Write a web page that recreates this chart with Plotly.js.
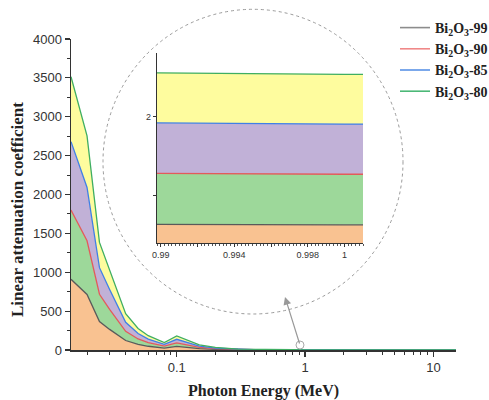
<!DOCTYPE html>
<html>
<head>
<meta charset="utf-8">
<script src="https://cdn.plot.ly/plotly-3.0.1.min.js"></script>
<style>html,body{margin:0;padding:0;background:#fff;}#chart{width:489px;height:400px;}</style>
</head>
<body>
<div id="chart"></div>
<script>
// Photon energies (MeV)
const energy = [0.015, 0.02, 0.025, 0.03, 0.04, 0.05, 0.06, 0.08, 0.1, 0.15, 0.2, 0.3, 0.4, 0.5, 0.6, 0.8, 1, 1.25, 1.5, 2, 3, 4, 5, 6, 8, 10, 15];
// Stacked layer values (each series' own contribution)
const bi99 = [910, 715, 365, 265, 122, 72, 48, 25, 47, 17, 8.5, 3.2, 1.8, 1.2, 0.95, 0.74, 0.635, 0.57, 0.52, 0.46, 0.40, 0.38, 0.37, 0.37, 0.38, 0.39, 0.42];
const bi90 = [890, 690, 352, 258, 118, 70, 46.5, 24.3, 45.5, 16.5, 8.2, 3.1, 1.75, 1.17, 0.93, 0.735, 0.64, 0.565, 0.515, 0.455, 0.395, 0.375, 0.365, 0.365, 0.375, 0.385, 0.415];
const bi85 = [880, 686, 342, 254, 116, 69, 46, 24, 45, 16.3, 8.1, 3.05, 1.73, 1.15, 0.92, 0.73, 0.635, 0.56, 0.51, 0.45, 0.39, 0.37, 0.36, 0.36, 0.37, 0.38, 0.41];
const bi80 = [835, 663, 325, 244, 111, 66, 44, 23, 43, 15.6, 7.8, 2.95, 1.68, 1.12, 0.9, 0.72, 0.63, 0.555, 0.505, 0.445, 0.385, 0.365, 0.355, 0.355, 0.365, 0.375, 0.405];
const names = ['Bi<sub>2</sub>O<sub>3</sub>-99', 'Bi<sub>2</sub>O<sub>3</sub>-90', 'Bi<sub>2</sub>O<sub>3</sub>-85', 'Bi<sub>2</sub>O<sub>3</sub>-80'];
const xTickVals = [0.1, 1, 10];
const xTickText = ['0.1', '1', '10'];
const insetTickVals = [0.99, 0.992, 0.994, 0.996, 0.998, 1.0];
const insetTickText = ['0.99', '', '0.994', '', '0.998', '1'];

const series = [bi99, bi90, bi85, bi80];
const lineColors = ['#5a5a5a', '#e35a5a', '#3f7fe6', '#3fae62'];
const legendColors = ['#8c8c8c', '#f08888', '#5b93e6', '#4cb877'];
const fillColors = ['#f9c291', '#9dd89a', '#c1b1d7', '#fefc9e'];

const traces = [];
series.forEach((s, i) => {
  traces.push({
    x: energy, y: s, name: names[i], type: 'scatter', mode: 'lines',
    stackgroup: 'main', fillcolor: fillColors[i],
    line: {color: lineColors[i], width: 1.3},
    xaxis: 'x', yaxis: 'y', showlegend: false
  });
});
series.forEach((s, i) => {
  traces.push({
    x: energy, y: s, name: names[i], type: 'scatter', mode: 'lines',
    stackgroup: 'inset', fillcolor: fillColors[i],
    line: {color: lineColors[i], width: 1.3},
    xaxis: 'x2', yaxis: 'y2', showlegend: false, hoverinfo: 'skip'
  });
});
// legend entries (line keys only)
names.forEach((n, i) => {
  traces.push({
    x: [null], y: [null], name: n, type: 'scatter', mode: 'lines',
    line: {color: legendColors[i], width: 1.6}, showlegend: true,
    xaxis: 'x', yaxis: 'y'
  });
});

// geometry helpers (plot area: x 71..456, y 39..350)
const L = 71, W = 385, T = 39, H = 311;
const px = v => (v - L) / W;
const py = v => (T + H - v) / H;

const minorX = [];
[0.01, 0.1, 1, 10].forEach(d => { for (let k = 2; k <= 9; k++) minorX.push(d * k); });

const serif = 'Liberation Serif, Times New Roman, serif';

const layout = {
  width: 489, height: 400,
  margin: {l: L, r: 489 - L - W, t: T, b: 400 - T - H, autoexpand: false},
  paper_bgcolor: '#fff', plot_bgcolor: '#fff',
  font: {family: 'Liberation Sans, Arial, sans-serif', size: 13, color: '#333'},
  xaxis: {
    type: 'log', range: [Math.log10(0.015), Math.log10(15)],
    tickvals: xTickVals, ticktext: xTickText,
    ticks: 'outside', ticklen: 5, tickwidth: 1.2, tickcolor: '#333',
    minor: {tickvals: minorX, ticks: 'outside', ticklen: 3, tickcolor: '#333', tickwidth: 1},
    showline: true, linecolor: '#333', linewidth: 1.5,
    showgrid: false, zeroline: false,
    tickfont: {size: 13, color: '#333'},
    title: {text: '<b>Photon Energy (MeV)</b>', font: {family: serif, size: 16, color: '#222'}, standoff: 10}
  },
  yaxis: {
    range: [0, 4000], dtick: 500, tick0: 0,
    ticks: 'outside', ticklen: 5, tickwidth: 1.2, tickcolor: '#333',
    minor: {dtick: 250, ticks: 'outside', ticklen: 3, tickcolor: '#333', tickwidth: 1},
    showline: true, linecolor: '#333', linewidth: 1.5,
    showgrid: false, zeroline: false,
    tickfont: {size: 13, color: '#333'}
  },
  xaxis2: {
    domain: [px(157), px(363)], anchor: 'y2',
    range: [0.9898, 1.001],
    tickvals: insetTickVals, ticktext: insetTickText,
    ticks: 'outside', ticklen: 3, tickcolor: '#333',
    minor: {dtick: 0.0002, ticks: 'outside', ticklen: 2, tickcolor: '#555'},
    showline: true, linecolor: '#333', linewidth: 1.2,
    showgrid: false, zeroline: false,
    tickfont: {size: 9, color: '#333'}
  },
  yaxis2: {
    domain: [py(243), py(53)], anchor: 'x2',
    range: [0.405, 2.81],
    tickvals: [1, 2], ticktext: ['', '2'],
    ticks: 'outside', ticklen: 3, tickcolor: '#333',
    showline: true, linecolor: '#333', linewidth: 1.2,
    showgrid: false, zeroline: false,
    tickfont: {size: 9, color: '#333'}
  },
  legend: {
    x: px(395), y: py(12), xanchor: 'left', yanchor: 'top',
    bgcolor: 'rgba(0,0,0,0)', traceorder: 'normal',
    font: {family: serif, size: 14, color: '#222', weight: 'bold'},
    itemwidth: 30, tracegroupgap: 0
  },
  shapes: [
    {type: 'circle', xref: 'paper', yref: 'paper', x0: px(103), x1: px(403), y0: py(314), y1: py(9.3),
     line: {color: '#9a9a9a', width: 1, dash: 'dot'}, layer: 'above'},
    {type: 'circle', xref: 'paper', yref: 'paper', x0: px(296), x1: px(304), y0: py(349), y1: py(341),
     line: {color: '#aaa', width: 1}, layer: 'above'}
  ],
  annotations: [
    {xref: 'paper', yref: 'paper', x: px(285), y: py(297), ax: 15, ay: 48,
     text: '', showarrow: true, arrowhead: 2, arrowsize: 1.3, arrowwidth: 1.2, arrowcolor: '#999'},
    {xref: 'paper', yref: 'paper', x: px(17), y: py(210), xanchor: 'center', yanchor: 'middle',
     text: '<b>Linear attenuation coefficient</b>', textangle: -90, showarrow: false,
     font: {family: serif, size: 17, color: '#222'}}
  ]
};

Plotly.newPlot('chart', traces, layout, {displayModeBar: false, staticPlot: true});
</script>
</body>
</html>
